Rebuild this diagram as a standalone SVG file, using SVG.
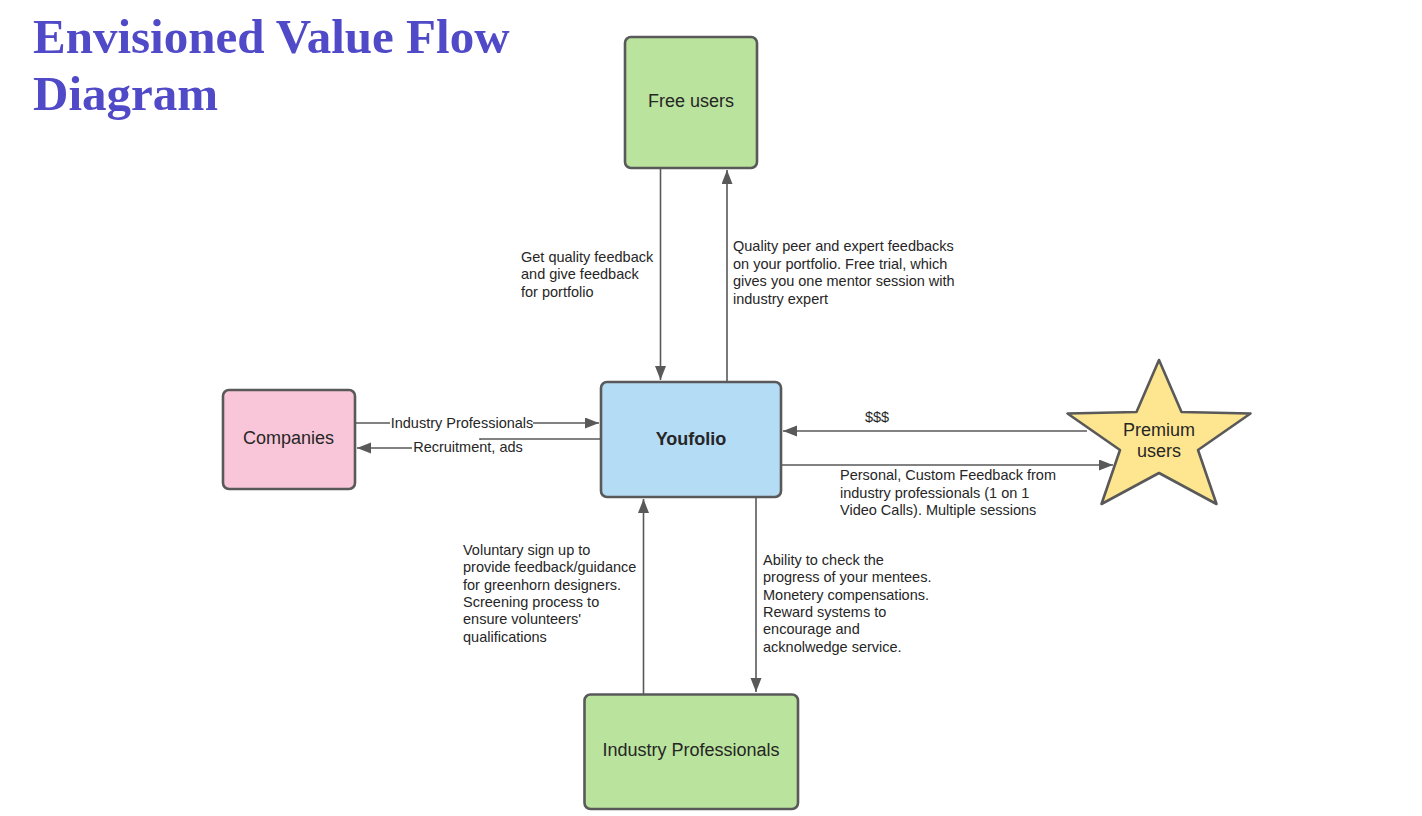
<svg xmlns="http://www.w3.org/2000/svg" width="1422" height="816" viewBox="0 0 1422 816">
<style>
.title{font-family:"Liberation Serif","Times New Roman",serif;font-weight:bold;font-size:49px;fill:#504ac8}
.node{stroke:#595959;stroke-width:2.6}
.nt{font-family:"Liberation Sans",Arial,sans-serif;font-size:18px;fill:#262626;text-anchor:middle}
.lbl{font-family:"Liberation Sans",Arial,sans-serif;font-size:14.5px;fill:#262626}
.ctr{text-anchor:middle}
.conn{fill:none;stroke:#595959;stroke-width:1.6}
.bg{fill:#ffffff}
</style>
<defs>
<marker id="arr" markerUnits="userSpaceOnUse" markerWidth="15" markerHeight="12" refX="14" refY="5.5" orient="auto">
<path d="M0,0 L14,5.5 L0,11 z" fill="#595959"/>
</marker>
</defs>
<rect width="1422" height="816" fill="#ffffff"/>
<g id="title">
<text class="title" x="33" y="53">Envisioned Value Flow</text>
<text class="title" x="33" y="110">Diagram</text>
</g>
<g id="connectors">
<path class="conn" d="M660.5,169 V380" marker-end="url(#arr)"/>
<path class="conn" d="M727,381 V170" marker-end="url(#arr)"/>
<path class="conn" d="M356,423 H599" marker-end="url(#arr)"/>
<path class="conn" d="M600,439 H480 V448 H357" marker-end="url(#arr)"/>
<path class="conn" d="M1087,431 H783" marker-end="url(#arr)"/>
<path class="conn" d="M782,465 H1113" marker-end="url(#arr)"/>
<path class="conn" d="M643.5,694 V499" marker-end="url(#arr)"/>
<path class="conn" d="M756,497 V692" marker-end="url(#arr)"/>
<rect class="bg" x="390" y="416" width="143" height="14"/>
<text class="lbl ctr" x="462" y="428">Industry Professionals</text>
<rect class="bg" x="412" y="440" width="112" height="14"/>
<text class="lbl ctr" x="468" y="451.5">Recruitment, ads</text>
<text class="lbl ctr" x="877" y="421.5">$$$</text>
<text class="lbl"><tspan x="521" y="262">Get quality feedback</tspan><tspan x="521" y="279.3">and give feedback</tspan><tspan x="521" y="296.6">for portfolio</tspan></text>
<text class="lbl"><tspan x="733" y="251">Quality peer and expert feedbacks</tspan><tspan x="733" y="268.5">on your portfolio. Free trial, which</tspan><tspan x="733" y="286">gives you one mentor session with</tspan><tspan x="733" y="303.5">industry expert</tspan></text>
<text class="lbl"><tspan x="840" y="480">Personal, Custom Feedback from</tspan><tspan x="840" y="497.5">industry professionals (1 on 1</tspan><tspan x="840" y="515">Video Calls). Multiple sessions</tspan></text>
<text class="lbl"><tspan x="463" y="555">Voluntary sign up to</tspan><tspan x="463" y="572.3">provide feedback/guidance</tspan><tspan x="463" y="589.6">for greenhorn designers.</tspan><tspan x="463" y="606.9">Screening process to</tspan><tspan x="463" y="624.2">ensure volunteers'</tspan><tspan x="463" y="641.5">qualifications</tspan></text>
<text class="lbl"><tspan x="763" y="565">Ability to check the</tspan><tspan x="763" y="582.3">progress of your mentees.</tspan><tspan x="763" y="599.6">Monetery compensations.</tspan><tspan x="763" y="616.9">Reward systems to</tspan><tspan x="763" y="634.2">encourage and</tspan><tspan x="763" y="651.5">acknolwedge service.</tspan></text>
</g>
<g id="free-users">
<rect class="node" x="625" y="37" width="132" height="131" rx="6" fill="#bae39d"/>
<text class="nt" x="691" y="106.5">Free users</text>
</g>
<g id="youfolio">
<rect class="node" x="601" y="382" width="180" height="115" rx="6" fill="#b4dcf5"/>
<text class="nt" x="691" y="445" font-weight="bold">Youfolio</text>
</g>
<g id="companies">
<rect class="node" x="223" y="390" width="132" height="99" rx="6" fill="#f8c6d8"/>
<text class="nt" x="288.5" y="443.5">Companies</text>
</g>
<g id="industry-professionals">
<rect class="node" x="584.5" y="694.5" width="213.5" height="114.5" rx="6" fill="#bae39d"/>
<text class="nt" x="691" y="755.5">Industry Professionals</text>
</g>
<g id="premium-users">
<polygon class="node" stroke-linejoin="round" fill="#fee691" points="1159,360 1181.5,412 1250.5,413.5 1198,450 1216.5,504 1159,473 1101.5,504 1120,450 1067.5,413.5 1136.5,412"/>
<text class="nt"><tspan x="1159" y="435.5">Premium</tspan><tspan x="1159" y="457">users</tspan></text>
</g>
</svg>
